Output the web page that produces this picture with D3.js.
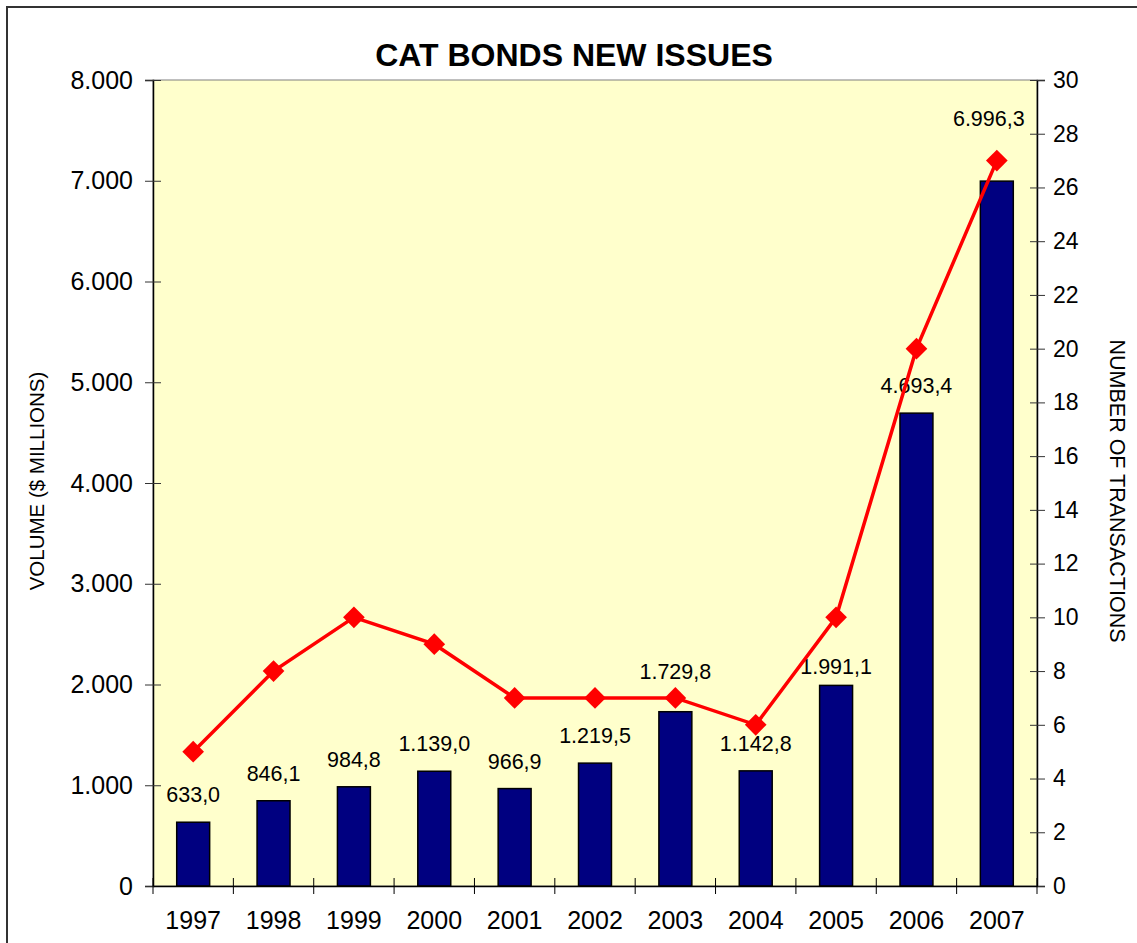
<!DOCTYPE html>
<html>
<head>
<meta charset="utf-8">
<script src="https://cdn.jsdelivr.net/npm/d3@7"></script>
<style>
  body { margin: 0; background: #fff; }
  svg { display: block; font-family: "Liberation Sans", Arial, sans-serif; }
</style>
</head>
<body>
<svg id="chart"></svg>
<script>
// dados
const anos = ["1997","1998","1999","2000","2001","2002","2003","2004","2005","2006","2007"];
const volume = [633.0, 846.1, 984.8, 1139.0, 966.9, 1219.5, 1729.8, 1142.8, 1991.1, 4693.4, 6996.3];
const transacoes = [5, 8, 10, 9, 7, 7, 7, 6, 10, 20, 27];
const ticks_volume = [0, 1000, 2000, 3000, 4000, 5000, 6000, 7000, 8000];
const ticks_transacoes = d3.range(0, 31, 2);

const w = 1137, h = 943;
const margin = { top: 80, bottom: 57, left: 153, right: 100 };

const $svg = d3.select('#chart').attr('width', w).attr('height', h);

const loc = d3.formatLocale({ decimal: ",", thousands: ".", grouping: [3], currency: ["$", ""] });
const fmtEixo = loc.format(",d");
const fmtRot = loc.format(",.1f");

// escalas
const x = d3.scaleBand().domain(anos).range([margin.left, w - margin.right]).padding(0);
const y = d3.scaleLinear().domain([0, 8000]).range([h - margin.bottom, margin.top]);
const y2 = d3.scaleLinear().domain([0, 30]).range([h - margin.bottom, margin.top]);

// moldura externa
$svg.append('rect')
  .attr('x', 7).attr('y', 7).attr('width', w).attr('height', h)
  .attr('fill', 'none').attr('stroke', '#333').attr('stroke-width', 2);

// area do grafico
$svg.append('rect')
  .attr('x', margin.left).attr('y', margin.top)
  .attr('width', w - margin.left - margin.right)
  .attr('height', h - margin.top - margin.bottom)
  .attr('fill', '#ffffcc').attr('stroke', '#808080').attr('stroke-width', 1);

// titulo
$svg.append('text')
  .attr('x', 574).attr('y', 66)
  .attr('text-anchor', 'middle')
  .attr('font-size', 32).attr('font-weight', 'bold')
  .text('CAT BONDS NEW ISSUES');

// barras
const bw = x.bandwidth() * 0.41;
$svg.selectAll('rect.barra')
  .data(volume)
  .enter().append('rect')
  .attr('class', 'barra')
  .attr('x', (d, i) => x(anos[i]) + x.bandwidth() / 2 - bw / 2)
  .attr('y', d => y(d))
  .attr('width', bw)
  .attr('height', d => y(0) - y(d))
  .attr('fill', '#000080')
  .attr('stroke', '#000').attr('stroke-width', 1.5);

// rotulos das barras (alguns deslocados como no original)
const ajuste = { "2003": [0, -13], "2005": [0, 9], "2007": [-8, -35] };
$svg.selectAll('text.rot')
  .data(volume)
  .enter().append('text')
  .attr('class', 'rot')
  .attr('x', (d, i) => x(anos[i]) + x.bandwidth() / 2 + (ajuste[anos[i]] ? ajuste[anos[i]][0] : 0))
  .attr('y', (d, i) => y(d) - 20 + (ajuste[anos[i]] ? ajuste[anos[i]][1] : 0))
  .attr('text-anchor', 'middle')
  .attr('font-size', 21.5)
  .text(d => fmtRot(d));

// linha de transacoes
const linha = d3.line()
  .x((d, i) => x(anos[i]) + x.bandwidth() / 2)
  .y(d => y2(d));

$svg.append('path')
  .datum(transacoes)
  .attr('d', linha)
  .attr('fill', 'none')
  .attr('stroke', '#ff0000')
  .attr('stroke-width', 3.5);

$svg.selectAll('path.losango')
  .data(transacoes)
  .enter().append('path')
  .attr('class', 'losango')
  .attr('d', d3.symbol().type(d3.symbolSquare).size(235))
  .attr('transform', (d, i) => `translate(${x(anos[i]) + x.bandwidth() / 2},${y2(d)}) rotate(45)`)
  .attr('fill', '#ff0000');

// eixos
const eixoY = $svg.append('g')
  .attr('transform', `translate(${margin.left},0)`)
  .call(d3.axisLeft(y).tickValues(ticks_volume).tickFormat(fmtEixo).tickSize(8).tickPadding(12));
eixoY.selectAll('line').clone().attr('x2', 8);

const eixoY2 = $svg.append('g')
  .attr('transform', `translate(${w - margin.right},0)`)
  .call(d3.axisRight(y2).tickValues(ticks_transacoes).tickSize(8).tickPadding(8));
eixoY2.selectAll('line').clone().attr('x2', -7);

const eixoX = $svg.append('g')
  .attr('transform', `translate(0,${h - margin.bottom})`)
  .call(d3.axisBottom(x).tickSize(0).tickPadding(25));

// marcas entre categorias
$svg.selectAll('line.sep')
  .data(anos.concat(['fim']))
  .enter().append('line')
  .attr('class', 'sep')
  .attr('x1', (d, i) => i < anos.length ? x(d) : x(anos[anos.length - 1]) + x.bandwidth())
  .attr('x2', (d, i) => i < anos.length ? x(d) : x(anos[anos.length - 1]) + x.bandwidth())
  .attr('y1', h - margin.bottom - 8)
  .attr('y2', h - margin.bottom + 8)
  .attr('stroke', '#000');

[eixoY, eixoY2, eixoX].forEach(g => {
  g.select('.domain').attr('stroke', '#000').attr('stroke-width', 1.5);
  g.selectAll('line').attr('stroke', '#333');
  g.selectAll('text').attr('fill', '#000').attr('font-family', '"Liberation Sans", Arial, sans-serif');
});
eixoY.selectAll('text').attr('font-size', 25);
eixoY2.selectAll('text').attr('font-size', 23);
eixoX.selectAll('text').attr('font-size', 25);

// titulos dos eixos
$svg.append('text')
  .attr('transform', 'translate(44,481) rotate(-90)')
  .attr('text-anchor', 'middle')
  .attr('font-size', 20.5)
  .text('VOLUME ($ MILLIONS)');

$svg.append('text')
  .attr('transform', 'translate(1110,491) rotate(90)')
  .attr('text-anchor', 'middle')
  .attr('font-size', 21.5)
  .text('NUMBER OF TRANSACTIONS');
</script>
</body>
</html>
